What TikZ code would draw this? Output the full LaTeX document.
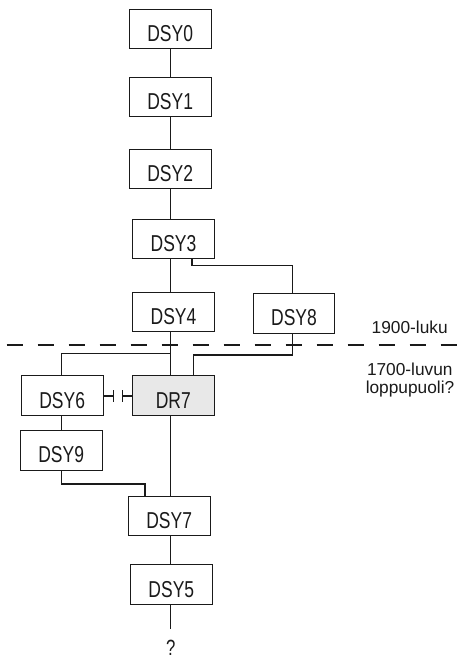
\documentclass[tikz,border=0pt]{standalone}
\usepackage{fontspec}
\setmainfont{Liberation Sans}
\newfontfamily\boxfont[FakeStretch=0.76]{Liberation Sans}
\definecolor{ink}{HTML}{1A1A1A}
\definecolor{boxgray}{HTML}{E8E8E8}
\tikzset{
  dsybox/.style={draw=ink, line width=0.9pt, minimum width=81.5pt, minimum height=39.3pt,
    inner sep=0pt, text height=25pt, text depth=0pt, font=\boxfont\fontsize{23}{23}\selectfont, text=ink},
  conn/.style={draw=ink, line width=1.6pt},
  dashln/.style={draw=ink, line width=1.5pt, dash pattern=on 16pt off 15pt},
  lbl/.style={anchor=base, inner sep=0pt, font=\fontsize{17.3}{18}\selectfont, text=ink}
}
\begin{document}
\begin{tikzpicture}[x=1pt,y=-1pt]
\useasboundingbox (0,0) rectangle (460,660);
% boxes
\node[dsybox] (DSY0) at (170.2,29) {DSY0};
\node[dsybox] (DSY1) at (170.2,97.3) {DSY1};
\node[dsybox] (DSY2) at (170.2,169.2) {DSY2};
\node[dsybox] (DSY3) at (173.5,238.8) {DSY3};
\node[dsybox] (DSY4) at (173.5,312.2) {DSY4};
\node[dsybox] (DSY8) at (294,313.3) {DSY8};
\node[dsybox, fill=boxgray] (DR7) at (173.3,395.5) {DR7};
\node[dsybox] (DSY6) at (62.2,395.5) {DSY6};
\node[dsybox] (DSY9) at (61.2,450.3) {DSY9};
\node[dsybox] (DSY7) at (169.2,516.2) {DSY7};
\node[dsybox] (DSY5) at (171.3,584.5) {DSY5};
\node[font=\boxfont\fontsize{22}{22}\selectfont, text=ink, inner sep=0pt] (Q) at (170.7,647.5) {?};
% labels
\node[lbl] (L1900) at (409.7,333.3) {1900-luku};
\node[lbl] (L1700a) at (409.8,375) {1700-luvun};
\node[lbl] (L1700b) at (410,393) {loppupuoli?};
% reference x positions
\coordinate (sp) at (170.5,0);
\coordinate (x3) at (191.7,0);
\coordinate (x8) at (292.3,0);
\coordinate (x7) at (193.3,0);
\coordinate (x6) at (61.5,0);
\coordinate (x7b) at (145,0);
\coordinate (qend) at (170.5,629);
\coordinate (j6) at (170.5,353.3);
\coordinate (t1) at (113.3,395.8);
\coordinate (t2) at (122.3,395.8);
% spine
\draw[conn] (DSY0.south -| sp) -- (DSY1.north -| sp);
\draw[conn] (DSY1.south -| sp) -- (DSY2.north -| sp);
\draw[conn] (DSY2.south -| sp) -- (DSY3.north -| sp);
\draw[conn] (DSY3.south -| sp) -- (DSY4.north -| sp);
\draw[conn] (DSY4.south -| sp) -- (DR7.north -| sp);
\draw[conn] (DR7.south -| sp) -- (DSY7.north -| sp);
\draw[conn] (DSY7.south -| sp) -- (DSY5.north -| sp);
\draw[conn] (DSY5.south -| sp) -- (qend);
% branches
\draw[conn] (j6) -| (DSY6.north -| x6);
\draw[conn] (DSY3.south -| x3) -- ++(0,6.7) -| (DSY8.north -| x8);
\draw[conn] (DSY8.south -| x8) -- ++(0,21.7) -| (DR7.north -| x7);
\draw[conn] (DSY6.south -| x6) -- (DSY9.north -| x6);
\draw[conn] (DSY9.south -| x6) -- ++(0,13.3) -| (DSY7.north -| x7b);
% DSY6 -| |- DR7
\draw[conn] (DSY6.east |- t1) -- (t1);
\draw[conn] ([yshift=-6pt]t1) -- ([yshift=6pt]t1);
\draw[conn] ([yshift=-6pt]t2) -- ([yshift=6pt]t2);
\draw[conn] (t2) -- (DR7.west |- t2);
% dashed time line
\draw[dashln] (6.7,345) -- (460,345);
\end{tikzpicture}
\end{document}
